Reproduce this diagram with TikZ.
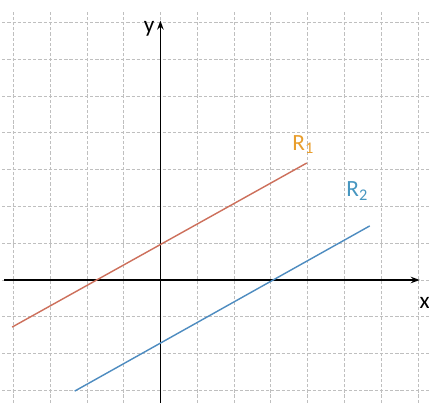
\documentclass[tikz,border=0pt]{standalone}
\usepackage{fontspec}
\setmainfont{Carlito}
\usetikzlibrary{arrows.meta}
\definecolor{rcol}{RGB}{205,112,92}
\definecolor{rlabel}{RGB}{232,158,45}
\definecolor{bcol}{RGB}{78,140,192}
\definecolor{blabel}{RGB}{70,150,192}

\begin{document}
\begin{tikzpicture}[x=1cm, y=1cm,
    gridline/.style={gray!50, dash pattern=on 2.5pt off 1.5pt, line width=0.5pt},
    axis/.style={line width=1.4pt, -{Stealth[length=7pt,width=5pt]}},
    graphline/.style={line width=1.1pt},
    lbl/.style={font=\fontsize{18}{21}\selectfont, inner sep=1pt}]
  \useasboundingbox (-4.36,-3.34) rectangle (7.30,7.61);
  % grid
  \foreach \i in {-4,...,7}
    \draw [gridline] (\i,-3.34) -- (\i,7.3);
  \foreach \j in {-3,...,7}
    \draw [gridline] (-4.3,\j) -- (7.30,\j);
  % axes
  \coordinate (xs) at (-4.25,0);
  \coordinate (xe) at (7.05,0);
  \coordinate (ys) at (0,-3.34);
  \coordinate (ye) at (0,7.05);
  \draw [axis] (xs) -- (xe);
  \draw [axis] (ys) -- (ye);
  \node (ylab) [lbl, anchor=east] at (-0.12,6.82) {y};
  \node (xlab) [lbl, anchor=west] at (7.0,-0.62) {x};
  % lines
  \coordinate (r1a) at (-4.03,-1.28);
  \coordinate (r1b) at (3.98,3.18);
  \coordinate (r2a) at (-2.33,-3.02);
  \coordinate (r2b) at (5.69,1.47);
  \draw [graphline, rcol] (r1a) -- (r1b);
  \draw [graphline, bcol] (r2a) -- (r2b);
  \node (r1lab) [lbl, text=rlabel] at (3.88,3.68) {R\textsubscript{1}};
  \node (r2lab) [lbl, text=blabel] at (5.35,2.42) {R\textsubscript{2}};
\end{tikzpicture}
\end{document}
